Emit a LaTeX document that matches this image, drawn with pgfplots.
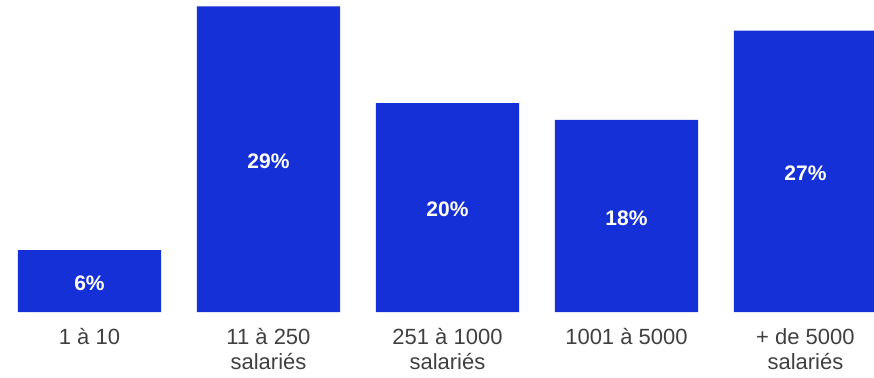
\documentclass[border=0pt]{standalone}
\usepackage{pgfplots}
\pgfplotsset{compat=1.18}
\usepackage{fontspec}
\setmainfont{Liberation Sans}
\definecolor{barblue}{RGB}{21,48,214}
\definecolor{labgray}{RGB}{64,64,64}
\begin{document}
\begin{tikzpicture}
\path[use as bounding box] (0pt,-65pt) rectangle (874pt,312pt);
\begin{axis}[
  scale only axis,
  width=874pt, height=312pt,
  xmin=-0.5, xmax=4.383,
  ymin=0, ymax=29.714,
  axis line style={draw=none},
  major tick length=0pt,
  clip=true,
  xtick={0,1,2,3,4},
  xticklabels={1 à 10, 11 à 250\\salariés, 251 à 1000\\salariés, 1001 à 5000, + de 5000\\salariés},
  xticklabel style={align=center, text=labgray, font=\fontsize{22}{25}\selectfont, inner sep=0pt, yshift=-16.5pt},
  ytick=\empty,
  /pgf/number format/assume math mode=true,
]
\addplot[ybar, bar width=0.8, fill=barblue, draw=none] coordinates {
  (0,5.9) (1,29.1) (2,19.9) (3,18.3) (4,26.8)
};
\addplot[only marks, mark=none, point meta=explicit,
  nodes near coords={\pgfmathprintnumber[fixed,precision=0]{\pgfplotspointmeta}\%},
  nodes near coords align={center},
  every node near coord/.append style={text=white, font=\fontsize{21}{25}\selectfont\bfseries, anchor=center, yshift=-2pt}]
  table[meta=v] {
  x y v
  0 2.95 5.9
  1 14.55 29.1
  2 9.95 19.9
  3 9.15 18.3
  4 13.4 26.8
};
\end{axis}
\end{tikzpicture}
\end{document}
